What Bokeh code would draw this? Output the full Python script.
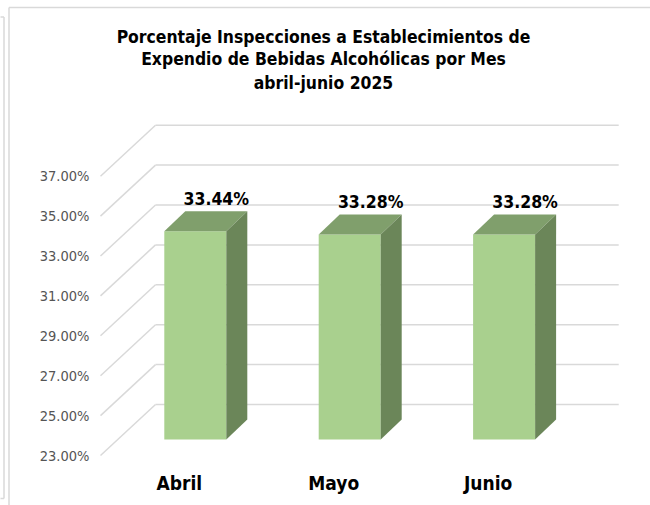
from bokeh.plotting import figure
from bokeh.models import Range1d
from bokeh.core.properties import value
from bokeh.embed import file_html
from bokeh.resources import INLINE

# ---- data ----
months = ["Abril", "Mayo", "Junio"]
percentages = [33.44, 33.28, 33.28]
value_labels = ["33.44%", "33.28%", "33.28%"]
ticks = [23, 25, 27, 29, 31, 33, 35, 37]
tick_labels = ["23.00%", "25.00%", "27.00%", "29.00%", "31.00%", "33.00%", "35.00%", "37.00%"]
title_lines = [
    "Porcentaje Inspecciones a Establecimientos de",
    "Expendio de Bebidas Alcohólicas por Mes",
    "abril-junio 2025",
]
AXIS_MIN = 23

# ---- layout constants ----
W, H = 650, 505
PAGE = 0          # page offset of the canvas
SLOT = 154.4      # px per category slot
K = 19.95         # px per percentage point
X0 = 117.6 - PAGE # canvas px of slot origin (bar plane)
Y0 = 439 - PAGE   # canvas px of axis minimum (bar plane)
FONT = value("DejaVu Sans Condensed")
GRID = "#d9d9d9"

def dx(px):
    return px / SLOT

def dy(px):
    return px / K

def cx(page_x):
    return (page_x - PAGE - X0) / SLOT

def cy(page_y):
    return AXIS_MIN + (Y0 - (page_y - PAGE)) / K

p = figure(width=W, height=H, output_backend="svg", toolbar_location=None,
           x_range=Range1d(-X0 / SLOT, (W - X0) / SLOT),
           y_range=Range1d(AXIS_MIN - (H - Y0) / K, AXIS_MIN + Y0 / K),
           min_border=0, outline_line_color=None)
p.title.visible = False
p.xaxis.visible = False
p.yaxis.visible = False
p.grid.visible = False
p.background_fill_color = "white"
p.border_fill_color = "white"

# chart borders
p.segment(x0=[cx(8.5), cx(8.5), cx(-5), cx(3.5), cx(-5)],
          y0=[cy(7), cy(7), cy(16.5), cy(16.5), cy(498)],
          x1=[cx(700), cx(8.5), cx(3.5), cx(3.5), cx(3.5)],
          y1=[cy(7), cy(600), cy(16.5), cy(498), cy(498)],
          line_color=GRID, line_width=1.5)

# ---- 3D wall gridlines ----
FRONT_DX, FRONT_DY = -17.6, -16   # front plane offset (px)
BACK_DX, BACK_DY = 37.4, 35       # back plane offset (px)
n = len(months)
back_xs = [[dx(BACK_DX), n + dx(BACK_DX)] for t in ticks]
back_ys = [[t + dy(BACK_DY), t + dy(BACK_DY)] for t in ticks]
diag_xs = [[dx(FRONT_DX), dx(BACK_DX)] for t in ticks]
diag_ys = [[t + dy(FRONT_DY), t + dy(BACK_DY)] for t in ticks]
p.multi_line(xs=back_xs + diag_xs, ys=back_ys + diag_ys, line_color=GRID, line_width=1.5)

# ---- tick labels on front plane ----
p.text(x=[cx(89)] * len(ticks), y=[t + dy(FRONT_DY) for t in ticks], text=tick_labels,
       text_align="right", text_baseline="middle", text_font=FONT,
       text_font_size="14.5px", text_color="#555555")

# ---- 3D bars ----
centers = [i + 0.5 for i in range(n)]
hw = dx(31)
bdx, bdy = dx(21), dy(20)
L = [c - hw for c in centers]
R = [c + hw for c in centers]
p.quad(left=L, right=R, bottom=[AXIS_MIN] * n, top=percentages,
       fill_color="#a9d08e", line_color=None)
top_xs = [[l, r, r + bdx, l + bdx] for l, r in zip(L, R)]
top_ys = [[v, v, v + bdy, v + bdy] for v in percentages]
p.patches(xs=top_xs, ys=top_ys, fill_color="#809f6c", line_color=None)
side_xs = [[r, r, r + bdx, r + bdx] for r in R]
side_ys = [[AXIS_MIN, v, v + bdy, AXIS_MIN + bdy] for v in percentages]
p.patches(xs=side_xs, ys=side_ys, fill_color="#6b8659", line_color=None)

# ---- value labels ----
p.text(x=[c + dx(21) for c in centers], y=[v + dy(32) for v in percentages], text=value_labels,
       text_align="center", text_baseline="alphabetic", text_font=FONT,
       text_font_size="17.5px", text_font_style="bold", text_color="black")

# ---- category labels ----
p.text(x=[c + dx(-16) for c in centers], y=[AXIS_MIN - dy(43)] * n, text=months,
       text_align="center", text_baseline="alphabetic", text_font=FONT,
       text_font_size="19px", text_font_style="bold", text_color="black")

# ---- title ----
p.text(x=[cx(323)] * 3, y=[cy(36.5), cy(58.8), cy(82)], text=title_lines,
       text_align="center", text_baseline="alphabetic", text_font=FONT,
       text_font_size="17.4px", text_font_style="bold", text_color="black")

open("out.html", "w").write(file_html(p, INLINE))
